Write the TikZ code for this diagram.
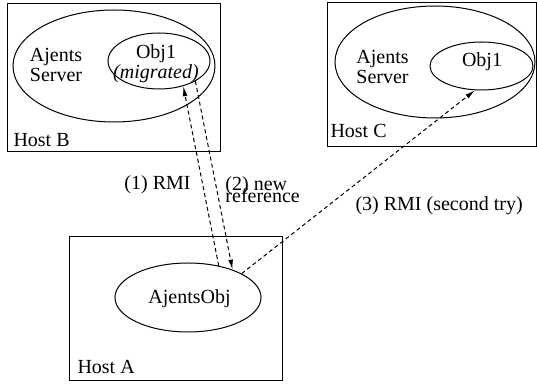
\documentclass[tikz,border=0pt]{standalone}
\usepackage{fontspec}
\setmainfont{Liberation Serif}
\usetikzlibrary{shapes.geometric,arrows.meta}

\begin{document}
\begin{tikzpicture}[x=0.5pt,y=-0.5pt,line width=0.5pt,
    host/.style={draw,rectangle,inner sep=0pt},
    blob/.style={draw,ellipse,inner sep=0pt},
    txt/.style={inner sep=0pt},
    call/.style={->,>={Latex[length=5pt,width=2.4pt]},dash pattern=on 2pt off 1.5pt}]
  \useasboundingbox (0,0) rectangle (537,384);

  % hosts
  \node(hostB) [host,minimum width=106.5pt,minimum height=74pt] at (113.5,78) {};
  \node(hostC) [host,minimum width=104.5pt,minimum height=72pt] at (431.5,75) {};
  \node(hostA) [host,minimum width=106.5pt,minimum height=72pt] at (175.5,309) {};
  \node(labB) [txt,anchor=base west] at (13,147) {Host B};
  \node(labC) [txt,anchor=base west] at (330,138) {Host C};
  \node(labA) [txt,anchor=base west] at (77,374) {Host A};

  % servers and objects
  \node(serverB) [blob,minimum width=101pt,minimum height=56pt] at (114,66) {};
  \node(serverC) [blob,minimum width=100pt,minimum height=56pt] at (435,62) {};
  \node(obj1B) [blob,minimum width=51pt,minimum height=28pt] at (159,61) {};
  \node(obj1C) [blob,minimum width=51.5pt,minimum height=24pt] at (481.5,66) {};
  \node(ajobj) [blob,minimum width=73pt,minimum height=34.5pt] at (188,297.5) {};

  \node(srvtxtB) [txt,align=left,font=\fontsize{10}{10}\selectfont] at (56,64.5) {Ajents\\Server};
  \node(srvtxtC) [txt,align=left,font=\fontsize{10}{10}\selectfont] at (382.5,66.5) {Ajents\\Server};
  \node(objtxtB) [txt,align=center,font=\fontsize{10}{8.5}\selectfont] at (156,63.5) {Obj1\\\textit{(migrated)}};
  \node(objtxtC) [txt] at (482,62) {Obj1};
  \node(ajtxt) [txt] at (189.5,299) {AjentsObj};

  % calls
  \draw[call] (ajobj.46) -- (obj1B.-46);
  \draw[call] (obj1B.-29) -- (ajobj.32);
  \draw[call] (ajobj.24) -- (obj1C.-105);

  \node(rmi) [txt,anchor=base] at (157.5,190) {(1) RMI};
  \node(newref) [txt,anchor=west,align=left,
    font={\fontsize{10}{6}\selectfont\lineskiplimit=-10pt}] at (225,190) {(2) new\\reference};
  \node(retry) [txt,anchor=base west] at (355,211) {(3) RMI (second try)};
\end{tikzpicture}
\end{document}
